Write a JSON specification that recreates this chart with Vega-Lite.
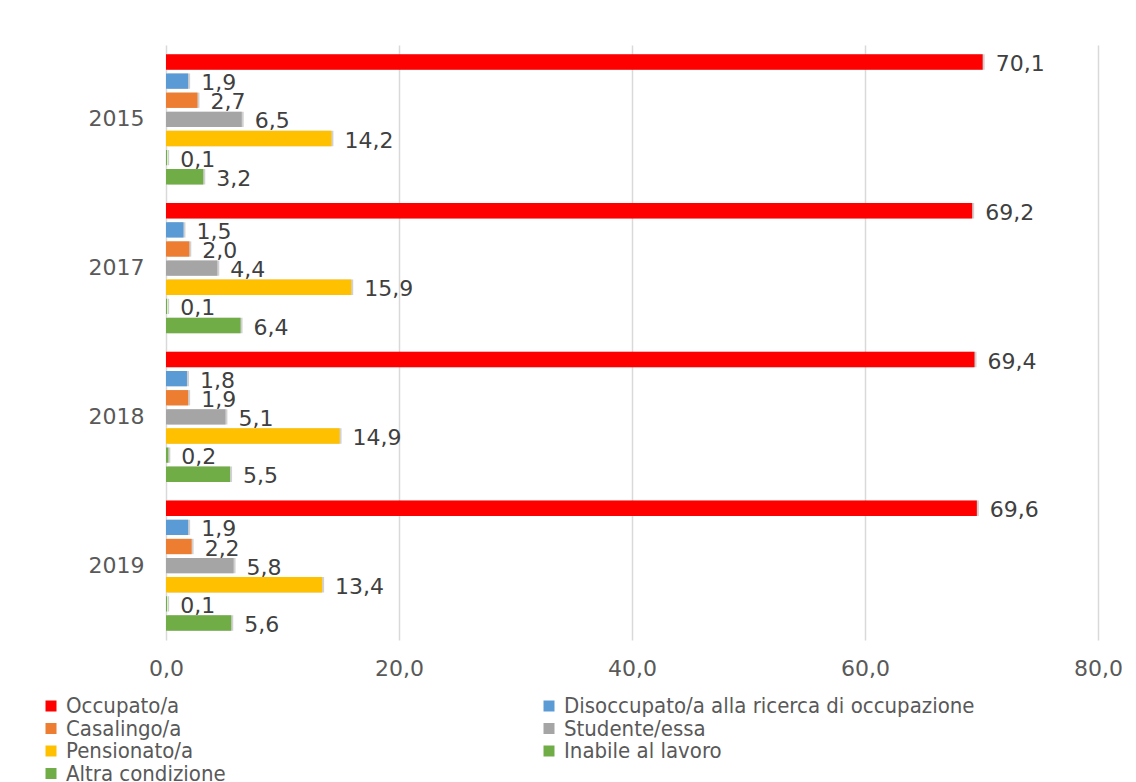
{
  "$schema": "https://vega.github.io/schema/vega-lite/v6.json",
  "autosize": {"type": "none"},
  "width": 932,
  "height": 595,
  "padding": {"left": 166, "top": 45, "right": 38, "bottom": 142},
  "background": "white",
  "config": {
    "locale": {"number": {"decimal": ",", "thousands": ".", "grouping": [3], "currency": ["", "€"]}},
    "view": {"stroke": null},
    "font": "DejaVu Sans"
  },
  "data": {
    "values": [
      {"anno": "2015", "condizione": "Occupato/a", "valore": 70.1},
      {"anno": "2015", "condizione": "Disoccupato/a alla ricerca di occupazione", "valore": 1.9},
      {"anno": "2015", "condizione": "Casalingo/a", "valore": 2.7},
      {"anno": "2015", "condizione": "Studente/essa", "valore": 6.5},
      {"anno": "2015", "condizione": "Pensionato/a", "valore": 14.2},
      {"anno": "2015", "condizione": "Inabile al lavoro", "valore": 0.1},
      {"anno": "2015", "condizione": "Altra condizione", "valore": 3.2},
      {"anno": "2017", "condizione": "Occupato/a", "valore": 69.2},
      {"anno": "2017", "condizione": "Disoccupato/a alla ricerca di occupazione", "valore": 1.5},
      {"anno": "2017", "condizione": "Casalingo/a", "valore": 2.0},
      {"anno": "2017", "condizione": "Studente/essa", "valore": 4.4},
      {"anno": "2017", "condizione": "Pensionato/a", "valore": 15.9},
      {"anno": "2017", "condizione": "Inabile al lavoro", "valore": 0.1},
      {"anno": "2017", "condizione": "Altra condizione", "valore": 6.4},
      {"anno": "2018", "condizione": "Occupato/a", "valore": 69.4},
      {"anno": "2018", "condizione": "Disoccupato/a alla ricerca di occupazione", "valore": 1.8},
      {"anno": "2018", "condizione": "Casalingo/a", "valore": 1.9},
      {"anno": "2018", "condizione": "Studente/essa", "valore": 5.1},
      {"anno": "2018", "condizione": "Pensionato/a", "valore": 14.9},
      {"anno": "2018", "condizione": "Inabile al lavoro", "valore": 0.2},
      {"anno": "2018", "condizione": "Altra condizione", "valore": 5.5},
      {"anno": "2019", "condizione": "Occupato/a", "valore": 69.6},
      {"anno": "2019", "condizione": "Disoccupato/a alla ricerca di occupazione", "valore": 1.9},
      {"anno": "2019", "condizione": "Casalingo/a", "valore": 2.2},
      {"anno": "2019", "condizione": "Studente/essa", "valore": 5.8},
      {"anno": "2019", "condizione": "Pensionato/a", "valore": 13.4},
      {"anno": "2019", "condizione": "Inabile al lavoro", "valore": 0.1},
      {"anno": "2019", "condizione": "Altra condizione", "valore": 5.6}
    ]
  },
  "encoding": {
    "y": {
      "field": "anno", "type": "nominal", "title": null,
      "sort": ["2015", "2017", "2018", "2019"],
      "scale": {"paddingInner": 0.1, "paddingOuter": 0.05},
      "axis": {"domain": false, "ticks": false, "labelFontSize": 22, "labelColor": "#595959", "labelPadding": 22, "labelFont": "DejaVu Sans"}
    },
    "yOffset": {
      "field": "condizione", "type": "nominal",
      "sort": ["Occupato/a", "Disoccupato/a alla ricerca di occupazione", "Casalingo/a", "Studente/essa", "Pensionato/a", "Inabile al lavoro", "Altra condizione"],
      "scale": {"paddingInner": 0.2, "paddingOuter": 0.1}
    },
    "x": {
      "field": "valore", "type": "quantitative", "title": null,
      "scale": {"domain": [0, 80], "nice": false},
      "axis": {"values": [0, 20, 40, 60, 80], "format": ".1f", "domain": false, "ticks": false, "grid": true, "gridColor": "#d9d9d9", "gridWidth": 1.5, "labelFlush": false, "labelFontSize": 22, "labelColor": "#595959", "labelPadding": 18, "labelFont": "DejaVu Sans"}
    }
  },
  "layer": [
    {
      "mark": {"type": "bar", "color": "#000000", "opacity": 0.18, "xOffset": 2, "yOffset": 3}
    },
    {
      "mark": {"type": "bar"},
      "encoding": {
        "color": {
          "field": "condizione", "type": "nominal", "title": null,
          "scale": {
            "domain": ["Occupato/a", "Disoccupato/a alla ricerca di occupazione", "Casalingo/a", "Studente/essa", "Pensionato/a", "Inabile al lavoro", "Altra condizione"],
            "range": ["#FF0000", "#5B9BD5", "#ED7D31", "#A5A5A5", "#FFC000", "#70AD47", "#70AD47"]
          },
          "legend": {
            "orient": "none", "legendX": -126, "legendY": 650, "direction": "horizontal", "columns": 2,
            "columnPadding": 312, "rowPadding": 0.5,
            "symbolType": "square", "symbolSize": 121, "symbolStrokeWidth": 0, "symbolOffset": 0,
            "labelFontSize": 22, "labelColor": "#595959", "labelFont": "DejaVu Sans Condensed", "labelOffset": 4, "labelLimit": 600
          }
        }
      }
    },
    {
      "mark": {"type": "text", "align": "left", "baseline": "middle", "dx": 13, "dy": 2, "fontSize": 22, "color": "#404040", "font": "DejaVu Sans"},
      "encoding": {
        "text": {"field": "valore", "type": "quantitative", "format": ".1f"}
      }
    }
  ]
}
